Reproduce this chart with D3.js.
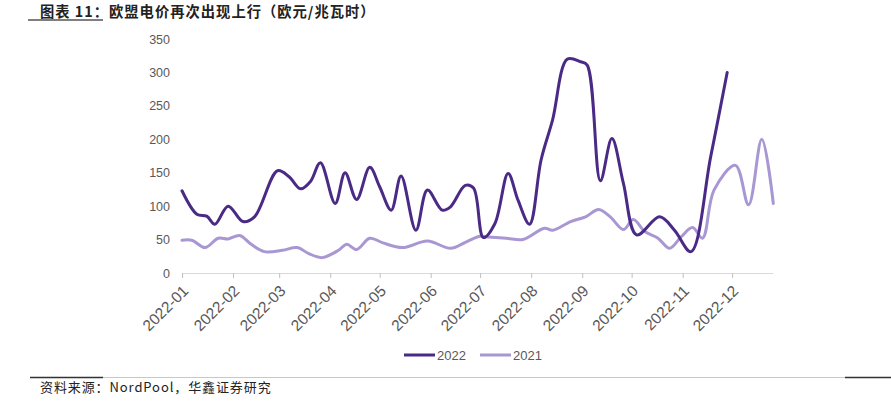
<!DOCTYPE html>
<html><head><meta charset="utf-8">
<script src="https://cdn.jsdelivr.net/npm/d3@7/dist/d3.min.js"></script>
<style>
html,body{margin:0;padding:0;background:#fff;}
svg{display:block;}
</style></head>
<body>
<svg id="chart" width="891" height="401"></svg>
<script>
// ---- data ----
const titleText = "图表 11：欧盟电价再次出现上行（欧元/兆瓦时）";
const sourceText = "资料来源：NordPool，华鑫证券研究";
const seriesNames = ["2022", "2021"];
const xTickLabels = ["2022-01","2022-02","2022-03","2022-04","2022-05","2022-06","2022-07","2022-08","2022-09","2022-10","2022-11","2022-12"];
const yTicks = [0,50,100,150,200,250,300,350];
const xDomain = ["2022-01-01","2022-12-26"];

const dates2022 = ["01-01","01-10","01-16","01-21","01-29","02-07","02-14","02-28","03-07","03-14","03-20","03-26","04-04","04-10","04-17","04-25","05-01","05-08","05-14","05-23","05-30","06-08","06-13","06-22","06-27","07-03","07-10","07-18","07-24","07-31","08-07","08-14","08-23","08-31","09-04","09-12","09-19","09-26","10-04","10-18","10-27","11-06","11-18","11-28"];
const values2022 = [123,88,85,73,100,77,84,153,144,126,137,165,104,150,110,158,129,94,145,64,124,94,99,131,127,53,74,149,109,73,169,229,320,316,311,138,201,134,57,84,64,32,174,300];

const dates2021 = ["01-01","01-07","01-15","01-23","01-29","02-05","02-12","02-20","03-03","03-12","03-19","03-27","04-06","04-11","04-17","04-25","05-03","05-15","05-30","06-13","06-23","07-01","07-06","07-17","07-27","08-09","08-14","08-25","09-03","09-11","09-18","09-26","10-02","10-09","10-17","10-24","10-31","11-07","11-13","11-20","12-03","12-11","12-19","12-26"];
const values2021 = [49,49,38,52,51,56,43,32,34,38,29,23,34,43,35,52,45,38,48,37,47,55,54,52,50,67,64,77,84,95,84,65,80,62,52,37,54,68,52,124,161,102,200,104];

const colors = ["#4b2a86", "#a897d3"];

// ---- drawing ----
const svg = d3.select("#chart");
const parse = d3.timeParse("%Y-%m-%d");
const md = s => parse("2022-" + s);

const x = d3.scaleTime().domain(xDomain.map(parse)).range([182, 773.3]);
const y = d3.scaleLinear().domain([0, 350]).range([273, 39]);

// title
svg.append("text").attr("x", 40).attr("y", 16.5)
  .attr("font-family", "'Noto Sans CJK SC', sans-serif").attr("font-weight", "bold")
  .attr("font-size", 14.3).attr("letter-spacing", 1.0).attr("fill", "#222").text(titleText);
svg.append("line").attr("x1", 28).attr("x2", 103).attr("y1", 20).attr("y2", 20)
  .attr("stroke", "#555").attr("stroke-width", 1.5);

// y axis labels
const yAxis = d3.axisLeft(y).tickValues(yTicks).tickSize(0).tickPadding(0);
const gy = svg.append("g").attr("transform", "translate(170,0)").call(yAxis);
gy.select(".domain").remove();
gy.selectAll("text").attr("font-family", "'Liberation Sans', Arial, sans-serif")
  .attr("font-size", 12.5).attr("fill", "#595959");

// x axis
const monthDates = xTickLabels.map(s => parse(s + "-01"));
const xAxis = d3.axisBottom(x).tickValues(monthDates).tickSize(5)
  .tickFormat((d, i) => xTickLabels[i]);
const gx = svg.append("g").attr("transform", "translate(0,273)").call(xAxis);
gx.select(".domain").attr("stroke", "#d9d9d9").attr("stroke-width", 1)
  .attr("d", `M${x.range()[0]},0.5H${x.range()[1]}`);
gx.selectAll(".tick line").attr("stroke", "#bfbfbf");
gx.selectAll(".tick text")
  .attr("font-family", "'Liberation Sans', Arial, sans-serif")
  .attr("font-size", 15.5).attr("fill", "#595959")
  .attr("text-anchor", "end").attr("x", 0).attr("y", 0).attr("dy", "0.35em")
  .attr("transform", "translate(3,15) rotate(-45)");

// lines
const line = d3.line().x(d => x(d.date)).y(d => y(d.value)).curve(d3.curveCatmullRom.alpha(0.5));
const s2022 = dates2022.map((d, i) => ({date: md(d), value: values2022[i]}));
const s2021 = dates2021.map((d, i) => ({date: md(d), value: values2021[i]}));
svg.append("path").datum(s2021).attr("d", line).attr("fill", "none")
  .attr("stroke", colors[1]).attr("stroke-width", 3).attr("stroke-linejoin", "round").attr("stroke-linecap", "round");
svg.append("path").datum(s2022).attr("d", line).attr("fill", "none")
  .attr("stroke", colors[0]).attr("stroke-width", 3).attr("stroke-linejoin", "round").attr("stroke-linecap", "round");

// legend
const legendX = [404, 480];
seriesNames.forEach((name, i) => {
  const g = svg.append("g").attr("transform", `translate(${legendX[i]},355)`);
  g.append("line").attr("x1", 0).attr("x2", 31).attr("y1", 0).attr("y2", 0)
    .attr("stroke", colors[i]).attr("stroke-width", 3);
  g.append("text").attr("x", 33).attr("y", 0).attr("dy", "0.35em")
    .attr("font-family", "'Liberation Sans', Arial, sans-serif")
    .attr("font-size", 13).attr("fill", "#595959").text(name);
});

// bottom separator
svg.append("line").attr("x1", 30).attr("x2", 103).attr("y1", 377.5).attr("y2", 377.5).attr("stroke", "#333").attr("stroke-width", 1.5);
svg.append("line").attr("x1", 103).attr("x2", 845).attr("y1", 377.5).attr("y2", 377.5).attr("stroke", "#c8c8c8").attr("stroke-width", 1);
svg.append("line").attr("x1", 845).attr("x2", 891).attr("y1", 377.5).attr("y2", 377.5).attr("stroke", "#333").attr("stroke-width", 1.5);

// source
svg.append("text").attr("x", 40).attr("y", 392)
  .attr("font-family", "'Noto Sans CJK SC', sans-serif")
  .attr("font-size", 13).attr("letter-spacing", 0.9).attr("fill", "#222").text(sourceText);
</script>
</body></html>
